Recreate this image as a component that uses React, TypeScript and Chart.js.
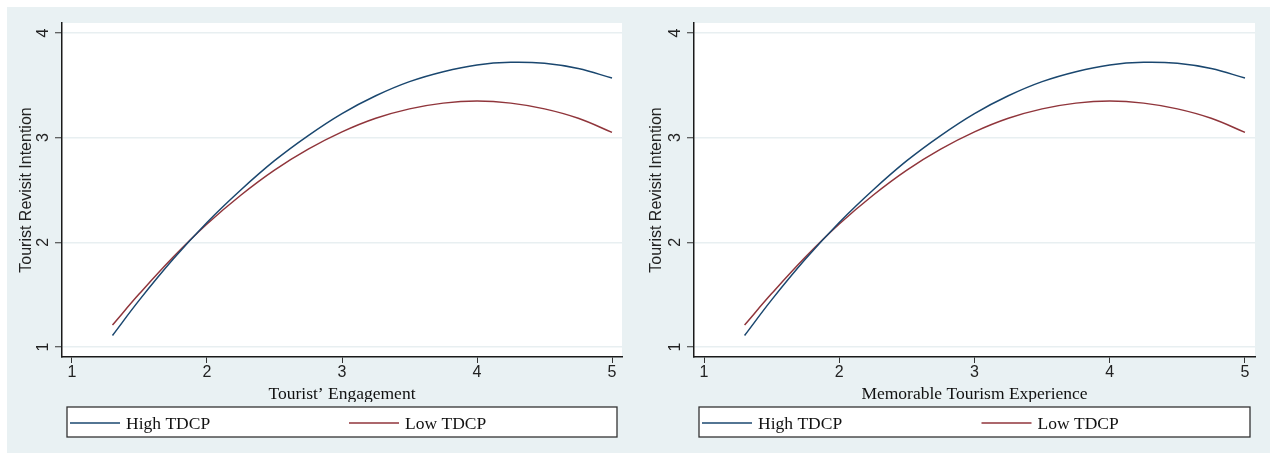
import React, { useEffect, useRef } from 'react';
import { Chart, registerables } from 'chart.js';

Chart.register(...registerables);

// ---- data ----
const xValues = [1.3, 1.5, 1.75, 2, 2.25, 2.5, 2.75, 3, 3.25, 3.5, 3.75, 4, 4.25, 4.5, 4.75, 5];
const highTDCP = [1.11, 1.45, 1.84, 2.19, 2.50, 2.78, 3.02, 3.23, 3.40, 3.535, 3.63, 3.695, 3.72, 3.71, 3.66, 3.57];
const lowTDCP = [1.21, 1.51, 1.86, 2.175, 2.45, 2.69, 2.89, 3.055, 3.185, 3.275, 3.33, 3.35, 3.33, 3.275, 3.185, 3.05];
const xTickValues = [1, 2, 3, 4, 5];
const yTickValues = [1, 2, 3, 4];
const seriesLabels = ['High TDCP', 'Low TDCP'];
const xAxisTitles = ['Tourist\u2019 Engagement', 'Memorable Tourism Experience'];
const yAxisTitle = 'Tourist Revisit Intention';

// ---- styles ----
const PANEL_BG = '#e9f1f3';
const SERIES_COLORS = ['#1a476f', '#90353b'];
const SERIF = '"Liberation Serif", "Times New Roman", serif';
const SANS = '"Liberation Sans", Arial, sans-serif';

const bgPlugin = {
  id: 'stataBg',
  beforeDraw(chart: any) {
    const { ctx, chartArea: a, width, height } = chart;
    ctx.save();
    ctx.fillStyle = PANEL_BG;
    ctx.fillRect(0, 0, width, height);
    ctx.fillStyle = '#ffffff';
    ctx.fillRect(a.left, a.top, a.right - a.left, a.bottom - a.top);
    ctx.restore();
  },
};

const legendPlugin = {
  id: 'stataLegend',
  afterDraw(chart: any) {
    const { ctx, chartArea: a, width } = chart;
    const top = 400;
    const bottom = 430;
    const left = a.left + 5;
    const right = a.right - 5;
    ctx.save();
    // clip x-title descenders like the reference
    ctx.fillStyle = PANEL_BG;
    ctx.fillRect(0, 395, width, 5);
    ctx.fillStyle = '#ffffff';
    ctx.fillRect(left, top, right - left, bottom - top);
    ctx.strokeStyle = '#333333';
    ctx.lineWidth = 1.3;
    ctx.strokeRect(left, top, right - left, bottom - top);
    const colW = (right - left) / 2 + 4;
    chart.data.datasets.forEach((ds: any, i: number) => {
      const x0 = left + 3 + i * colW;
      ctx.strokeStyle = ds.borderColor;
      ctx.lineWidth = 1.5;
      ctx.beginPath();
      ctx.moveTo(x0, 416);
      ctx.lineTo(x0 + 50, 416);
      ctx.stroke();
      ctx.fillStyle = '#111111';
      ctx.font = `17.5px ${SERIF}`;
      ctx.textAlign = 'left';
      ctx.textBaseline = 'alphabetic';
      ctx.fillText(ds.label, x0 + 56, 422.3);
    });
    ctx.restore();
  },
};

function Panel(props: { left: number; width: number; yWidth: number; xTitle: string }) {
  const ref = useRef<HTMLCanvasElement>(null);
  useEffect(() => {
    if (!ref.current) return;
    const series = [highTDCP, lowTDCP];
    const chart = new Chart(ref.current, {
      type: 'line',
      data: {
        datasets: series.map((s, i) => ({
          label: seriesLabels[i],
          data: xValues.map((x, j) => ({ x, y: s[j] })),
          borderColor: SERIES_COLORS[i],
          backgroundColor: SERIES_COLORS[i],
          borderWidth: 1.5,
          pointRadius: 0,
          tension: 0.4,
          fill: false,
        })),
      },
      options: {
        responsive: false,
        animation: false,
        devicePixelRatio: 1,
        layout: { padding: { left: 0, right: 15, top: 16, bottom: 46 } },
        plugins: { legend: { display: false }, tooltip: { enabled: false } },
        scales: {
          x: {
            type: 'linear',
            min: 0.926,
            max: 5.074,
            afterBuildTicks: (s: any) => {
              s.ticks = xTickValues.map((v) => ({ value: v }));
            },
            afterFit: (s: any) => {
              s.height = 50;
              s.paddingLeft = 0;
              s.paddingRight = 0;
            },
            ticks: {
              autoSkip: false,
              maxRotation: 0,
              padding: 0,
              color: '#222222',
              font: { family: SANS, size: 16, lineHeight: 1.2 },
            },
            grid: {
              drawOnChartArea: false,
              tickLength: 6,
              tickColor: '#333333',
              tickWidth: 1,
            },
            border: { display: true, color: '#1a1a1a', width: 1.5 },
            title: {
              display: true,
              text: props.xTitle,
              color: '#111111',
              font: { family: SERIF, size: 17.5, lineHeight: 1.2 },
              padding: { top: 0, bottom: 2.5 },
            },
          },
          y: {
            type: 'linear',
            min: 0.9045,
            max: 4.0955,
            afterBuildTicks: (s: any) => {
              s.ticks = yTickValues.map((v) => ({ value: v }));
            },
            afterFit: (s: any) => {
              s.width = props.yWidth;
              s.paddingTop = 0;
              s.paddingBottom = 0;
            },
            ticks: {
              autoSkip: false,
              minRotation: 90,
              maxRotation: 90,
              crossAlign: 'center',
              padding: 7,
              color: '#222222',
              font: { family: SANS, size: 16, lineHeight: 1.2 },
            },
            grid: {
              color: '#e8eff1',
              lineWidth: 1.5,
              tickLength: 7,
              tickColor: '#333333',
              tickWidth: 1,
            },
            border: { display: true, color: '#1a1a1a', width: 1.5 },
            title: {
              display: true,
              text: yAxisTitle,
              color: '#222222',
              font: { family: SANS, size: 16, lineHeight: 1.2 },
              padding: { top: 10, bottom: 0 },
            },
          },
        },
      } as any,
      plugins: [bgPlugin, legendPlugin],
    });
    return () => chart.destroy();
  }, []);
  return (
    <canvas
      ref={ref}
      width={props.width}
      height={446}
      style={{ position: 'absolute', left: props.left, top: 7, width: props.width, height: 446 }}
    />
  );
}

export default function App() {
  return (
    <div style={{ position: 'absolute', left: 0, top: 0, width: 1270, height: 453, background: '#ffffff', overflow: 'hidden' }}>
      <Panel left={7} width={630} yWidth={55} xTitle={xAxisTitles[0]} />
      <Panel left={637} width={633} yWidth={57} xTitle={xAxisTitles[1]} />
    </div>
  );
}
